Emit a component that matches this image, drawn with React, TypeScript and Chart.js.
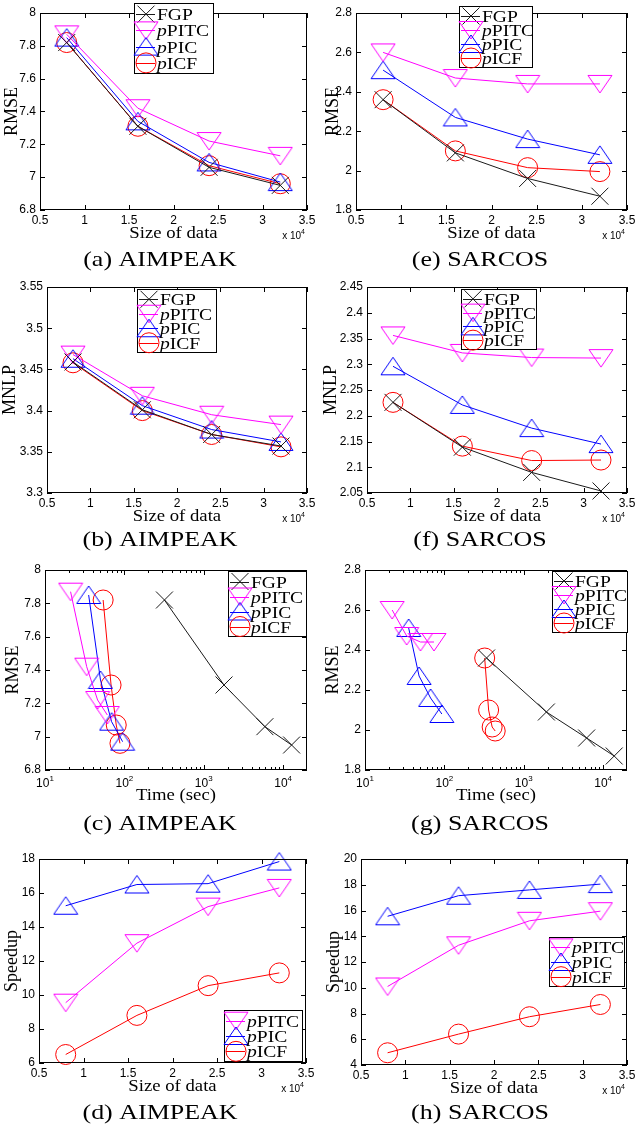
import { useEffect, useRef } from 'react';
import { Chart, registerables } from 'chart.js';

Chart.register(...registerables);

const SERIF = "'Liberation Serif', 'Times New Roman', serif";
const SANS = "'Liberation Sans', Arial, sans-serif";

// ---- data ----
// dataset sizes, in units of 10^4
const sizes = [0.8, 1.6, 2.4, 3.2];

// AIMPEAK RMSE
const aimRmseFGP = [7.82, 7.31, 7.06, 6.95];
const aimRmsePITC = [7.87, 7.42, 7.22, 7.13];
const aimRmsePIC = [7.85, 7.34, 7.09, 6.97];
const aimRmseICF = [7.82, 7.31, 7.07, 6.96];

// SARCOS RMSE
const sarRmseFGP = [2.36, 2.09, 1.96, 1.87];
const sarRmsePITC = [2.6, 2.47, 2.44, 2.44];
const sarRmsePIC = [2.51, 2.27, 2.16, 2.08];
const sarRmseICF = [2.36, 2.1, 2.015, 1.995];

// AIMPEAK MNLP
const aimMnlpFGP = [3.459, 3.401, 3.371, 3.357];
const aimMnlpPITC = [3.468, 3.418, 3.395, 3.383];
const aimMnlpPIC = [3.463, 3.406, 3.377, 3.362];
const aimMnlpICF = [3.458, 3.4, 3.371, 3.356];

// SARCOS MNLP
const sarMnlpFGP = [2.226, 2.139, 2.09, 2.054];
const sarMnlpPITC = [2.356, 2.322, 2.313, 2.312];
const sarMnlpPIC = [2.296, 2.221, 2.176, 2.145];
const sarMnlpICF = [2.226, 2.141, 2.113, 2.114];

// incurred time in seconds
const aimTimeFGP = [320, 1800, 5900, 12800];
const aimTimePITC = [21, 33.5, 46, 61];
const aimTimePIC = [35.5, 50, 69, 95];
const aimTimeICF = [54, 68, 79, 88];

const sarTimeFGP = [340, 1930, 6200, 13800];
const sarTimePITC = [22, 33.5, 50, 74];
const sarTimePIC = [35.5, 48, 67, 93];
const sarTimeICF = [322, 361, 400, 437];

// speedup
const aimSpeedPITC = [9.55, 13.05, 15.2, 16.3];
const aimSpeedPIC = [15.25, 16.5, 16.55, 17.85];
const aimSpeedICF = [6.5, 8.8, 10.55, 11.3];

const sarSpeedPITC = [10.1, 13.3, 15.2, 15.95];
const sarSpeedPIC = [15.55, 17.15, 17.6, 18.05];
const sarSpeedICF = [4.95, 6.4, 7.75, 8.7];

// ---- ticks ----
const sizeTicks = [0.5, 1, 1.5, 2, 2.5, 3, 3.5];
const sizeTickLabels = ['0.5', '1', '1.5', '2', '2.5', '3', '3.5'];
const timeTicks = [10, 100, 1000, 10000];
const timeTickExponents = ['1', '2', '3', '4'];
const timeMinorTicks = [20, 30, 40, 50, 60, 70, 80, 90, 200, 300, 400, 500, 600, 700, 800, 900, 2000, 3000, 4000, 5000, 6000, 7000, 8000, 9000];

const aimRmseTicks = [6.8, 7, 7.2, 7.4, 7.6, 7.8, 8];
const aimRmseLabels = ['6.8', '7', '7.2', '7.4', '7.6', '7.8', '8'];
const sarRmseTicks = [1.8, 2, 2.2, 2.4, 2.6, 2.8];
const sarRmseLabels = ['1.8', '2', '2.2', '2.4', '2.6', '2.8'];
const aimMnlpTicks = [3.3, 3.35, 3.4, 3.45, 3.5, 3.55];
const aimMnlpLabels = ['3.3', '3.35', '3.4', '3.45', '3.5', '3.55'];
const sarMnlpTicks = [2.05, 2.1, 2.15, 2.2, 2.25, 2.3, 2.35, 2.4, 2.45];
const sarMnlpLabels = ['2.05', '2.1', '2.15', '2.2', '2.25', '2.3', '2.35', '2.4', '2.45'];
const aimSpeedTicks = [6, 8, 10, 12, 14, 16, 18];
const aimSpeedLabels = ['6', '8', '10', '12', '14', '16', '18'];
const sarSpeedTicks = [4, 6, 8, 10, 12, 14, 16, 18, 20];
const sarSpeedLabels = ['4', '6', '8', '10', '12', '14', '16', '18', '20'];

// ---- method styles ----
type MarkerKind = 'cross' | 'down' | 'up' | 'circle';
const METHODS: { prefix: string; name: string; color: string; marker: MarkerKind }[] = [
  { prefix: '', name: 'FGP', color: '#1a1a1a', marker: 'cross' },
  { prefix: 'p', name: 'PITC', color: '#ff00ff', marker: 'down' },
  { prefix: 'p', name: 'PIC', color: '#0000ff', marker: 'up' },
  { prefix: 'p', name: 'ICF', color: '#ff0000', marker: 'circle' },
];

const TRI_W = 24;
const TRI_H = 18;
const CIRCLE_R = 10;
const CROSS_R = 12;

function triangleImage(color: string, down: boolean): HTMLCanvasElement {
  const c = document.createElement('canvas');
  c.width = TRI_W + 2;
  c.height = TRI_H + 2;
  const g = c.getContext('2d')!;
  g.strokeStyle = color;
  g.lineWidth = 1;
  g.beginPath();
  if (down) {
    g.moveTo(1, 1.5);
    g.lineTo(TRI_W + 1, 1.5);
    g.lineTo(TRI_W / 2 + 1, TRI_H + 1);
  } else {
    g.moveTo(TRI_W / 2 + 1, 1);
    g.lineTo(TRI_W + 1, TRI_H + 0.5);
    g.lineTo(1, TRI_H + 0.5);
  }
  g.closePath();
  g.stroke();
  return c;
}

type Series = { method: number; x: number[]; y: number[] };

type Panel = {
  caption: string;
  cell: [number, number, number, number];
  plot: [number, number, number, number];
  logX: boolean;
  xRange: [number, number];
  yRange: [number, number];
  yTicks: number[];
  yLabels: string[];
  yTitle: string;
  xTitle: string;
  yTitleX: number;
  legendBox: [number, number, number, number];
  legendMethods: number[];
  captionX: number;
  captionY: number;
  series: Series[];
};

const COL0 = 160;
const COL1 = 480;

const PANELS: Panel[] = [
  {
    caption: '(a) AIMPEAK', cell: [0, 0, 320, 280], plot: [40, 4, 308, 210],
    logX: false, xRange: [0.5, 3.5], yRange: [6.8, 8], yTicks: aimRmseTicks, yLabels: aimRmseLabels,
    yTitle: 'RMSE', xTitle: 'Size of data', yTitleX: 12, legendBox: [134, 3, 214, 74], legendMethods: [0, 1, 2, 3],
    captionX: COL0, captionY: 260,
    series: [
      { method: 0, x: sizes, y: aimRmseFGP },
      { method: 1, x: sizes, y: aimRmsePITC },
      { method: 2, x: sizes, y: aimRmsePIC },
      { method: 3, x: sizes, y: aimRmseICF },
    ],
  },
  {
    caption: '(e) SARCOS', cell: [320, 0, 320, 280], plot: [356, 6, 631, 210],
    logX: false, xRange: [0.5, 3.5], yRange: [1.8, 2.8], yTicks: sarRmseTicks, yLabels: sarRmseLabels,
    yTitle: 'RMSE', xTitle: 'Size of data', yTitleX: 333, legendBox: [459, 6, 533, 68], legendMethods: [0, 1, 2, 3],
    captionX: COL1, captionY: 260,
    series: [
      { method: 0, x: sizes, y: sarRmseFGP },
      { method: 1, x: sizes, y: sarRmsePITC },
      { method: 2, x: sizes, y: sarRmsePIC },
      { method: 3, x: sizes, y: sarRmseICF },
    ],
  },
  {
    caption: '(b) AIMPEAK', cell: [0, 274, 320, 286], plot: [47, 286, 308, 493],
    logX: false, xRange: [0.5, 3.5], yRange: [3.3, 3.55], yTicks: aimMnlpTicks, yLabels: aimMnlpLabels,
    yTitle: 'MNLP', xTitle: 'Size of data', yTitleX: 10, legendBox: [137, 289, 217, 353], legendMethods: [0, 1, 2, 3],
    captionX: COL0, captionY: 540,
    series: [
      { method: 0, x: sizes, y: aimMnlpFGP },
      { method: 1, x: sizes, y: aimMnlpPITC },
      { method: 2, x: sizes, y: aimMnlpPIC },
      { method: 3, x: sizes, y: aimMnlpICF },
    ],
  },
  {
    caption: '(f) SARCOS', cell: [320, 274, 320, 286], plot: [367, 286, 629, 493],
    logX: false, xRange: [0.5, 3.5], yRange: [2.05, 2.45], yTicks: sarMnlpTicks, yLabels: sarMnlpLabels,
    yTitle: 'MNLP', xTitle: 'Size of data', yTitleX: 331, legendBox: [461, 289, 537, 350], legendMethods: [0, 1, 2, 3],
    captionX: COL1, captionY: 540,
    series: [
      { method: 0, x: sizes, y: sarMnlpFGP },
      { method: 1, x: sizes, y: sarMnlpPITC },
      { method: 2, x: sizes, y: sarMnlpPIC },
      { method: 3, x: sizes, y: sarMnlpICF },
    ],
  },
  {
    caption: '(c) AIMPEAK', cell: [0, 557, 320, 288], plot: [45, 569, 311, 770],
    logX: true, xRange: [10, 20000], yRange: [6.8, 8], yTicks: aimRmseTicks, yLabels: aimRmseLabels,
    yTitle: 'RMSE', xTitle: 'Time (sec)', yTitleX: 13, legendBox: [228, 571, 307, 637], legendMethods: [0, 1, 2, 3],
    captionX: COL0, captionY: 824,
    series: [
      { method: 0, x: aimTimeFGP, y: aimRmseFGP },
      { method: 1, x: aimTimePITC, y: aimRmsePITC },
      { method: 2, x: aimTimePIC, y: aimRmsePIC },
      { method: 3, x: aimTimeICF, y: aimRmseICF },
    ],
  },
  {
    caption: '(g) SARCOS', cell: [320, 557, 320, 288], plot: [365, 569, 632, 770],
    logX: true, xRange: [10, 20000], yRange: [1.8, 2.8], yTicks: sarRmseTicks, yLabels: sarRmseLabels,
    yTitle: 'RMSE', xTitle: 'Time (sec)', yTitleX: 333, legendBox: [552, 571, 628, 633], legendMethods: [0, 1, 2, 3],
    captionX: COL1, captionY: 824,
    series: [
      { method: 0, x: sarTimeFGP, y: sarRmseFGP },
      { method: 1, x: sarTimePITC, y: sarRmsePITC },
      { method: 2, x: sarTimePIC, y: sarRmsePIC },
      { method: 3, x: sarTimeICF, y: sarRmseICF },
    ],
  },
  {
    caption: '(d) AIMPEAK', cell: [0, 846, 320, 282], plot: [39, 859, 306, 1063],
    logX: false, xRange: [0.5, 3.5], yRange: [6, 18], yTicks: aimSpeedTicks, yLabels: aimSpeedLabels,
    yTitle: 'Speedup', xTitle: 'Size of data', yTitleX: 12, legendBox: [224, 1010, 303, 1062], legendMethods: [1, 2, 3],
    captionX: COL0, captionY: 1113,
    series: [
      { method: 1, x: sizes, y: aimSpeedPITC },
      { method: 2, x: sizes, y: aimSpeedPIC },
      { method: 3, x: sizes, y: aimSpeedICF },
    ],
  },
  {
    caption: '(h) SARCOS', cell: [320, 846, 320, 282], plot: [361, 859, 627, 1065],
    logX: false, xRange: [0.5, 3.5], yRange: [4, 20], yTicks: sarSpeedTicks, yLabels: sarSpeedLabels,
    yTitle: 'Speedup', xTitle: 'Size of data', yTitleX: 334, legendBox: [549, 937, 625, 987], legendMethods: [1, 2, 3],
    captionX: COL1, captionY: 1113,
    series: [
      { method: 1, x: sizes, y: sarSpeedPITC },
      { method: 2, x: sizes, y: sarSpeedPIC },
      { method: 3, x: sizes, y: sarSpeedICF },
    ],
  },
];

function stretchedText(
  ctx: CanvasRenderingContext2D, s: string, x: number, y: number, font: string,
  sx: number, align: 'left' | 'center' | 'right',
): number {
  ctx.save();
  ctx.font = font;
  const w = ctx.measureText(s).width * sx;
  const x0 = align === 'left' ? x : align === 'center' ? x - w / 2 : x - w;
  ctx.translate(x0, y);
  ctx.scale(sx, 1);
  ctx.textAlign = 'left';
  ctx.fillText(s, 0, 0);
  ctx.restore();
  return w;
}

function drawMarker(ctx: CanvasRenderingContext2D, kind: MarkerKind, color: string, x: number, y: number, imgs: Record<string, HTMLCanvasElement>) {
  ctx.save();
  ctx.strokeStyle = color;
  ctx.lineWidth = 1;
  if (kind === 'cross') {
    const d = CROSS_R * Math.SQRT1_2;
    ctx.beginPath();
    ctx.moveTo(x - d, y - d); ctx.lineTo(x + d, y + d);
    ctx.moveTo(x - d, y + d); ctx.lineTo(x + d, y - d);
    ctx.stroke();
  } else if (kind === 'circle') {
    ctx.beginPath();
    ctx.arc(x, y, CIRCLE_R, 0, Math.PI * 2);
    ctx.stroke();
  } else {
    const img = imgs[kind];
    ctx.drawImage(img, x - img.width / 2, y - img.height / 2);
  }
  ctx.restore();
}

function decorPlugin(p: Panel, imgs: Record<string, HTMLCanvasElement>) {
  return {
    id: 'decor',
    afterDraw(chart: Chart) {
      const ctx = chart.ctx;
      const xs = chart.scales.x;
      const ys = chart.scales.y;
      const { left, top, right, bottom } = chart.chartArea;
      const ox = p.cell[0];
      const oy = p.cell[1];
      ctx.save();
      ctx.fillStyle = '#000';
      ctx.strokeStyle = '#000';
      ctx.lineWidth = 1;

      // axes box
      ctx.strokeRect(left + 0.5, top + 0.5, right - left - 1, bottom - top - 1);

      // inward ticks on all four sides
      const TL = 5;
      ctx.beginPath();
      for (const v of p.yTicks) {
        const py = Math.round(ys.getPixelForValue(v)) + 0.5;
        ctx.moveTo(left, py); ctx.lineTo(left + TL, py);
        ctx.moveTo(right, py); ctx.lineTo(right - TL, py);
      }
      const xTickVals = p.logX ? timeTicks : sizeTicks;
      for (const v of xTickVals) {
        const px = Math.round(xs.getPixelForValue(v)) + 0.5;
        ctx.moveTo(px, bottom); ctx.lineTo(px, bottom - TL);
        ctx.moveTo(px, top); ctx.lineTo(px, top + TL);
      }
      if (p.logX) {
        for (const v of timeMinorTicks) {
          const px = Math.round(xs.getPixelForValue(v)) + 0.5;
          ctx.moveTo(px, bottom); ctx.lineTo(px, bottom - 3);
          ctx.moveTo(px, top); ctx.lineTo(px, top + 3);
        }
      }
      ctx.stroke();

      // y tick labels
      ctx.font = `12px ${SANS}`;
      ctx.textAlign = 'right';
      ctx.textBaseline = 'middle';
      p.yTicks.forEach((v, i) => {
        ctx.fillText(p.yLabels[i], left - 4, ys.getPixelForValue(v));
      });

      // x tick labels
      ctx.textBaseline = 'alphabetic';
      if (p.logX) {
        timeTicks.forEach((v, i) => {
          const px = xs.getPixelForValue(v);
          ctx.font = `12px ${SANS}`;
          const w1 = ctx.measureText('10').width;
          ctx.font = `8px ${SANS}`;
          const w2 = ctx.measureText(timeTickExponents[i]).width;
          const x0 = px - (w1 + w2) / 2;
          ctx.textAlign = 'left';
          ctx.font = `12px ${SANS}`;
          ctx.fillText('10', x0, bottom + 17);
          ctx.font = `8px ${SANS}`;
          ctx.fillText(timeTickExponents[i], x0 + w1, bottom + 11);
        });
      } else {
        ctx.textAlign = 'center';
        ctx.font = `12px ${SANS}`;
        sizeTicks.forEach((v, i) => {
          ctx.fillText(sizeTickLabels[i], xs.getPixelForValue(v), bottom + 14);
        });
        // axis multiplier
        ctx.textAlign = 'right';
        ctx.font = `7px ${SANS}`;
        const ws = ctx.measureText('4').width;
        ctx.fillText('4', right - 2, bottom + 24);
        ctx.font = `10px ${SANS}`;
        ctx.fillText('x 10', right - 2 - ws, bottom + 29);
      }

      // axis titles
      ctx.textBaseline = 'alphabetic';
      stretchedText(ctx, p.xTitle, (left + right) / 2, bottom + (p.logX ? 30 : 28), `17px ${SERIF}`, 1.1, 'center');
      ctx.save();
      ctx.translate(p.yTitleX - ox, (top + bottom) / 2);
      ctx.rotate(-Math.PI / 2);
      ctx.font = `18px ${SERIF}`;
      ctx.textAlign = 'center';
      ctx.textBaseline = 'middle';
      ctx.fillText(p.yTitle, 0, 0);
      ctx.restore();

      // legend
      const [ll, lt, lr, lb] = p.legendBox;
      const bx = ll - ox;
      const by = lt - oy;
      ctx.fillStyle = '#fff';
      ctx.fillRect(bx, by, lr - ll, lb - lt);
      ctx.strokeStyle = '#000';
      ctx.strokeRect(bx + 0.5, by + 0.5, lr - ll - 1, lb - lt - 1);
      const rowH = (lb - lt - 6) / p.legendMethods.length;
      p.legendMethods.forEach((m, i) => {
        const st = METHODS[m];
        const cy = by + 3 + rowH * (i + 0.5);
        ctx.strokeStyle = st.color;
        ctx.beginPath();
        ctx.moveTo(bx + 2, Math.round(cy) + 0.5);
        ctx.lineTo(bx + 21, Math.round(cy) + 0.5);
        ctx.stroke();
        drawMarker(ctx, st.marker, st.color, bx + 12, cy, imgs);
        ctx.fillStyle = '#000';
        ctx.textBaseline = 'alphabetic';
        let tx = bx + 23;
        if (st.prefix) {
          tx += stretchedText(ctx, st.prefix, tx, cy + 6, `italic 17px ${SERIF}`, 1.15, 'left');
        }
        stretchedText(ctx, st.name, tx, cy + 6, `17px ${SERIF}`, 1.15, 'left');
      });

      // caption
      ctx.fillStyle = '#000';
      ctx.textBaseline = 'middle';
      stretchedText(ctx, p.caption, p.captionX - ox, p.captionY - oy, `22px ${SERIF}`, 1.18, 'center');
      ctx.restore();
    },
  };
}

function PanelChart({ panel }: { panel: Panel }) {
  const ref = useRef<HTMLCanvasElement>(null);
  const [cx, cy, cw, ch] = panel.cell;
  useEffect(() => {
    const canvas = ref.current;
    if (!canvas) return;
    const imgs: Record<string, HTMLCanvasElement> = {};
    for (const m of METHODS) {
      if (m.marker === 'down' || m.marker === 'up') {
        imgs[m.marker] = triangleImage(m.color, m.marker === 'down');
      }
    }
    const datasets = panel.series.map((s) => {
      const st = METHODS[s.method];
      let pointStyle: any = 'circle';
      let radius = CIRCLE_R;
      if (st.marker === 'cross') { pointStyle = 'crossRot'; radius = CROSS_R; }
      if (st.marker === 'down' || st.marker === 'up') {
        pointStyle = imgs[st.marker];
        radius = TRI_W / 2;
      }
      return {
        label: st.prefix + st.name,
        data: s.x.map((x, i) => ({ x, y: s.y[i] })),
        borderColor: st.color,
        borderWidth: 1,
        backgroundColor: 'transparent',
        pointStyle,
        pointRadius: radius,
        pointBorderColor: st.color,
        pointBorderWidth: 1,
        pointBackgroundColor: 'transparent',
        tension: 0,
        clip: false,
      };
    });
    const [pl, pt, pr, pb] = panel.plot;
    const chart = new Chart(canvas, {
      type: 'line',
      data: { datasets },
      options: {
        responsive: false,
        animation: false,
        events: [],
        layout: {
          padding: { left: pl - cx, top: pt - cy, right: cx + cw - pr, bottom: cy + ch - pb },
        },
        plugins: { legend: { display: false }, tooltip: { enabled: false }, title: { display: false } },
        scales: {
          x: { type: panel.logX ? 'logarithmic' : 'linear', min: panel.xRange[0], max: panel.xRange[1], display: false },
          y: { type: 'linear', min: panel.yRange[0], max: panel.yRange[1], display: false },
        },
      },
      plugins: [decorPlugin(panel, imgs)],
    } as any);
    return () => chart.destroy();
  }, [panel]);
  return (
    <canvas
      ref={ref}
      width={cw}
      height={ch}
      style={{ position: 'absolute', left: cx, top: cy, width: cw, height: ch }}
    />
  );
}

export default function App() {
  return (
    <div style={{ position: 'absolute', left: 0, top: 0, width: 640, height: 1128, background: '#fff', overflow: 'hidden' }}>
      {PANELS.map((p) => (
        <PanelChart key={p.caption} panel={p} />
      ))}
    </div>
  );
}
